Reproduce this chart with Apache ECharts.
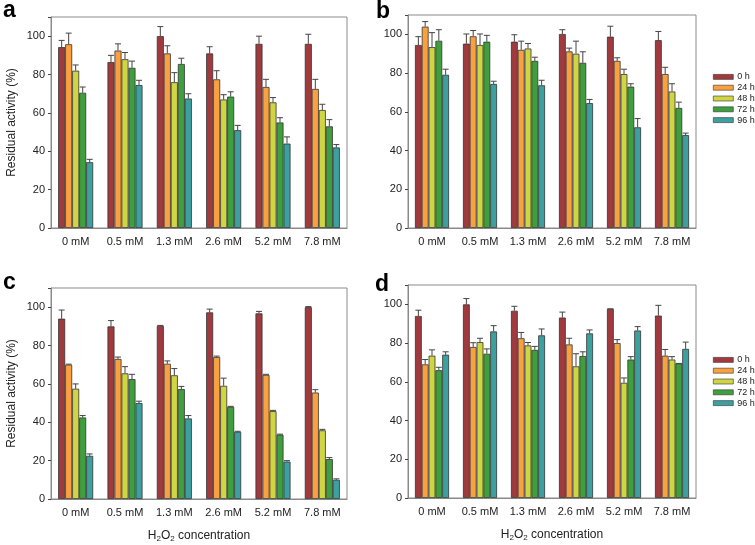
<!DOCTYPE html>
<html lang="en">
<head>
<meta charset="utf-8">
<title>Residual activity vs H2O2</title>
<script src="https://cdn.jsdelivr.net/npm/echarts@6/dist/echarts.min.js"></script>
<style>
  html, body { margin: 0; padding: 0; background: #fff; }
</style>
</head>
<body>
<div id="main" style="width:755px;height:545px;"></div>
<script type="text/javascript">
// categories and series
var categories = ['0 mM', '0.5 mM', '1.3 mM', '2.6 mM', '5.2 mM', '7.8 mM'];
var seriesNames = ['0 h', '24 h', '48 h', '72 h', '96 h'];
var colors = ['#A03A3D', '#FBA03F', '#D0D544', '#3F9F3F', '#3C9FA0'];
var yTicks = [0, 20, 40, 60, 80, 100];

// panel a
var aValues = [
    [94.3, 86.5, 100, 91, 96, 96],
    [95.8, 92.5, 91, 77.5, 73.5, 72.5],
    [82, 88, 76, 67, 65.5, 61.5],
    [70.5, 83.5, 85.5, 68.5, 55, 53],
    [34.3, 74.5, 67.5, 51, 44, 42]
];
var aErrors = [
    [3.5, 3.5, 5, 3.5, 4, 5],
    [5.8, 3.5, 4, 4.5, 4, 5],
    [3, 3.5, 5, 2.5, 2.5, 3],
    [3, 3.5, 3, 2.5, 2.5, 3.5],
    [1.5, 2.5, 2.5, 2.5, 3.5, 1.5]
];
// panel b
var bValues = [
    [94.5, 95.2, 96.2, 100.2, 98.8, 97],
    [104, 99, 92, 91.2, 86.3, 79.5],
    [93.4, 94.5, 92.7, 90, 79.5, 70.5],
    [96.7, 96.2, 86.3, 85.3, 73, 62],
    [79.1, 74.4, 73.7, 64.5, 52, 48]
];
var bErrors = [
    [4.3, 5, 3.6, 2.2, 5.4, 4.5],
    [2.6, 3, 4.5, 1.7, 1.6, 3.5],
    [7.5, 5.7, 2.6, 6.5, 2.5, 4],
    [5.7, 3.3, 1.9, 5.7, 1.5, 3],
    [2.9, 1.4, 2.6, 1.9, 4.5, 1]
];
// panel c
var cValues = [
    [94, 90, 90.3, 97.3, 96.8, 100],
    [70, 73, 70.5, 74, 64.7, 55.5],
    [57.5, 65.5, 64.5, 59, 45.8, 35.8],
    [42.5, 62.5, 57.3, 48, 33.5, 20.8],
    [22.5, 50, 42, 35, 19.5, 10]
];
var cErrors = [
    [4.5, 3, 0.2, 1.7, 1, 0.3],
    [0.3, 1, 1.5, 0.5, 0.3, 1.5],
    [2.5, 3.5, 3.5, 4, 0.4, 0.5],
    [1, 2.5, 1.4, 0.3, 0.3, 0.8],
    [1, 1, 1.5, 0.3, 0.5, 0.5]
];
// panel d
var dValues = [
    [94, 100, 96.7, 93.2, 97.7, 94.2],
    [69, 78, 82.5, 79.3, 80, 73.5],
    [73.5, 80.5, 78.8, 68, 59.5, 71.5],
    [66, 74.5, 76.5, 73.3, 71.5, 69.5],
    [74, 86, 84, 85, 86.5, 77]
];
var dErrors = [
    [3, 3, 2.3, 2.8, 0, 5.3],
    [2.5, 2.2, 3, 3.2, 1.8, 3.2],
    [3, 2, 1.5, 6.5, 2.5, 1.5],
    [1.5, 2.5, 1.8, 2.2, 1.5, 0],
    [1.5, 3, 3.3, 1.8, 2, 3.5]
];

var panels = [
    { letter: 'a', values: aValues, errors: aErrors, grid: { left: 51, top: 17, width: 296, height: 211 }, yName: true, xName: false, legendTop: 0, lx: 3, ly: -1 },
    { letter: 'b', values: bValues, errors: bErrors, grid: { left: 408, top: 15, width: 288, height: 213 }, yName: false, xName: false, legendTop: 71.5, lx: 376, ly: 0 },
    { letter: 'c', values: cValues, errors: cErrors, grid: { left: 51, top: 288, width: 296, height: 211 }, yName: true, xName: true, legendTop: 0, lx: 3, ly: 271 },
    { letter: 'd', values: dValues, errors: dErrors, grid: { left: 408, top: 285, width: 288, height: 213 }, yName: false, xName: true, legendTop: 354.5, lx: 375, ly: 273 }
];

var catGap = 0.29;
var axisColor = '#8a8a8a';
var labelColor = '#222';
var fontFamily = 'Liberation Sans, Arial, sans-serif';

var grids = [], xAxes = [], yAxes = [], series = [], legends = [], graphics = [];

panels.forEach(function (p, pi) {
    grids.push(Object.assign({ show: true, borderColor: axisColor, borderWidth: 1, backgroundColor: 'transparent' }, p.grid));
    xAxes.push({
        type: 'category',
        gridIndex: pi,
        data: categories,
        axisLine: { lineStyle: { color: axisColor } },
        axisTick: { alignWithLabel: true, length: 3, lineStyle: { color: '#444' } },
        axisLabel: { color: labelColor, fontSize: 11, fontFamily: fontFamily, margin: 8 },
        name: p.xName ? '{n|H}{s|2}{n|O}{s|2}{n| concentration}' : '',
        nameLocation: 'middle',
        nameGap: 30,
        nameTextStyle: {
            rich: {
                n: { fontSize: 12, color: labelColor, fontFamily: fontFamily },
                s: { fontSize: 8, color: labelColor, fontFamily: fontFamily, verticalAlign: 'bottom', padding: [6, 0, 0, 0] }
            }
        }
    });
    yAxes.push({
        type: 'value',
        gridIndex: pi,
        min: 0,
        max: 110,
        interval: 20,
        splitLine: { show: false },
        axisLine: { show: true, lineStyle: { color: axisColor } },
        axisTick: { show: true, length: 3, lineStyle: { color: '#444' } },
        axisLabel: {
            color: labelColor, fontSize: 11, fontFamily: fontFamily, margin: 6,
            formatter: function (v) { return yTicks.indexOf(v) >= 0 ? String(v) : ''; }
        },
        name: p.yName ? 'Residual activity (%)' : '',
        nameLocation: 'middle',
        nameGap: 33,
        nameTextStyle: { fontSize: 12, color: labelColor, fontFamily: fontFamily }
    });

    p.values.forEach(function (vals, k) {
        series.push({
            name: seriesNames[k],
            type: 'bar',
            xAxisIndex: pi,
            yAxisIndex: pi,
            data: vals,
            barGap: '0%',
            barCategoryGap: (catGap * 100) + '%',
            itemStyle: { color: colors[k], borderColor: '#333', borderWidth: 0.8 },
            z: 2
        });
    });

    // error bars, one custom series per time point
    p.errors.forEach(function (errs, k) {
        var data = categories.map(function (c, i) { return [i, p.values[k][i], p.values[k][i] + errs[i]]; });
        series.push({
            type: 'custom',
            xAxisIndex: pi,
            yAxisIndex: pi,
            data: data,
            z: 3,
            silent: true,
            renderItem: function (params, api) {
                var i = api.value(0);
                var base = api.coord([i, api.value(1)]);
                var top = api.coord([i, api.value(2)]);
                var w = api.size([1, 0])[0];
                var gw = w * (1 - catGap);
                var bw = gw / 5;
                var x = base[0] - gw / 2 + bw * (k + 0.5);
                var cap = 3;
                var style = { stroke: '#444', lineWidth: 1 };
                return {
                    type: 'group',
                    children: [
                        { type: 'line', shape: { x1: x, y1: base[1], x2: x, y2: top[1] }, style: style },
                        { type: 'line', shape: { x1: x - cap, y1: top[1], x2: x + cap, y2: top[1] }, style: style }
                    ]
                };
            }
        });
    });

    if (p.legendTop) {
        legends.push({
            orient: 'vertical',
            left: 713,
            top: p.legendTop,
            itemWidth: 20,
            itemHeight: 5,
            itemGap: 0,
            icon: 'rect',
            data: seriesNames.map(function (n) { return { name: n }; }),
            textStyle: { fontSize: 9, lineHeight: 10.8, color: labelColor, fontFamily: fontFamily, padding: [0, 0, 0, -1] },
            itemStyle: { borderColor: '#333', borderWidth: 0.6 },
            selectedMode: false,
            padding: 0
        });
    }

    graphics.push({
        type: 'text',
        left: p.lx,
        top: p.ly,
        style: { text: p.letter, font: 'bold 23px ' + fontFamily, fill: '#000' }
    });
});

var myChart = echarts.init(document.getElementById('main'));
myChart.setOption({
    animation: false,
    backgroundColor: '#fff',
    grid: grids,
    xAxis: xAxes,
    yAxis: yAxes,
    legend: legends,
    series: series,
    graphic: graphics
});
</script>
</body>
</html>
